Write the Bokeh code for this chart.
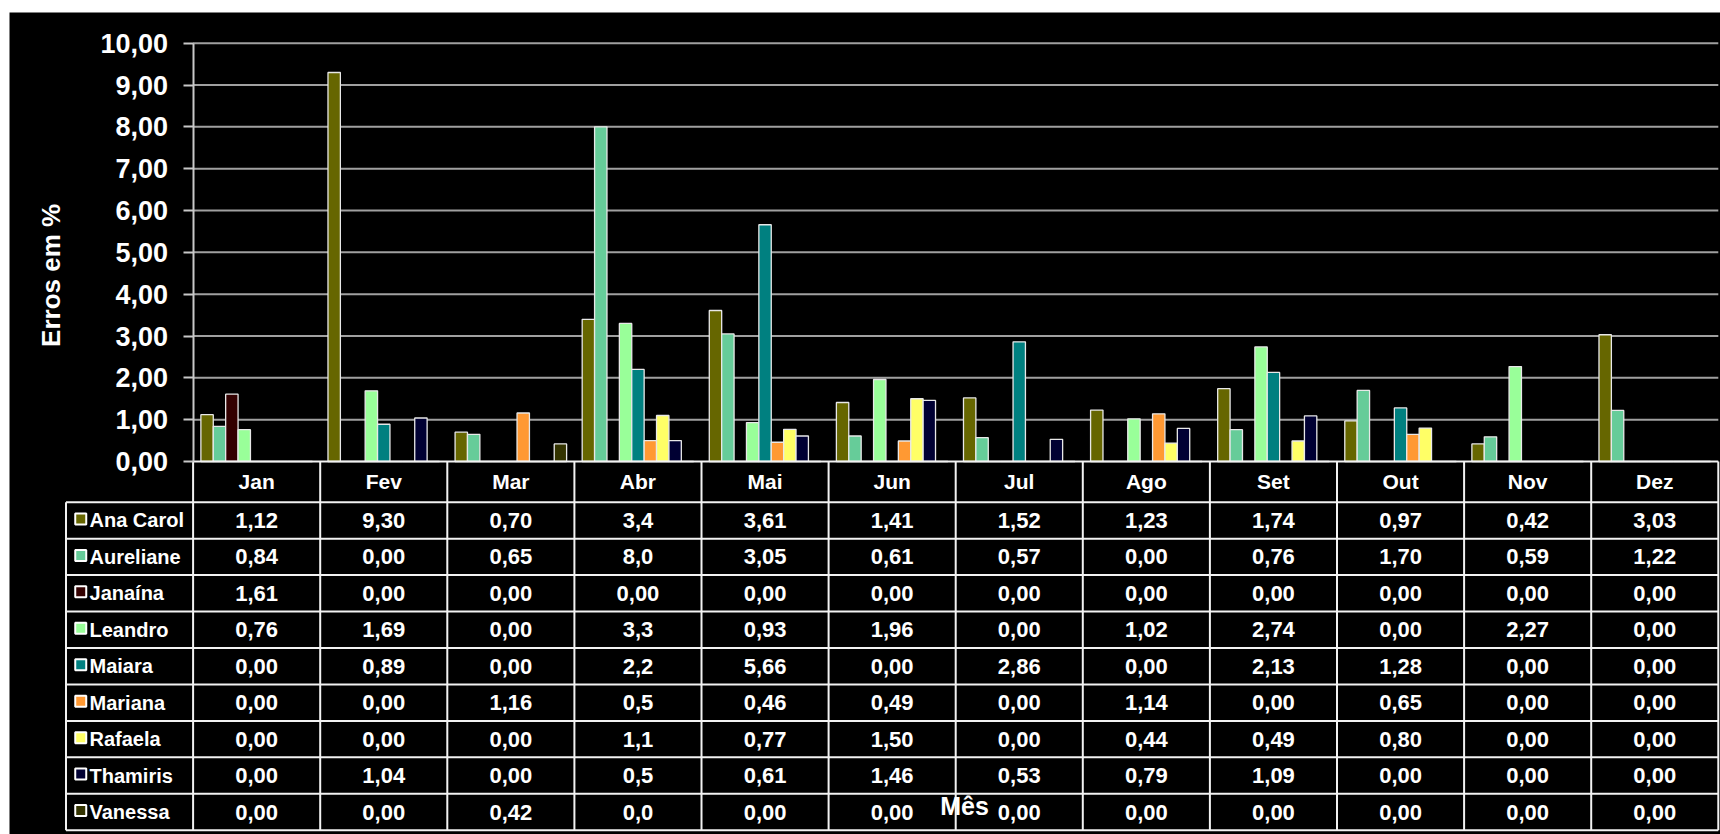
from math import pi
from bokeh.plotting import figure
from bokeh.models import (ColumnDataSource, Range1d, LinearAxis, FixedTicker,
                          Label, Grid, Spacer)
from bokeh.layouts import column, row
from bokeh.transform import dodge
from bokeh.core.properties import value
from bokeh.embed import file_html
from bokeh.resources import INLINE

# ---------------- data ----------------
months = ["Jan", "Fev", "Mar", "Abr", "Mai", "Jun", "Jul", "Ago", "Set", "Out", "Nov", "Dez"]
series_names = ["Ana Carol", "Aureliane", "Janaína", "Leandro", "Maiara",
                "Mariana", "Rafaela", "Thamiris", "Vanessa"]
ana_carol = ["1,12", "9,30", "0,70", "3,4", "3,61", "1,41", "1,52", "1,23", "1,74", "0,97", "0,42", "3,03"]
aureliane = ["0,84", "0,00", "0,65", "8,0", "3,05", "0,61", "0,57", "0,00", "0,76", "1,70", "0,59", "1,22"]
janaina   = ["1,61", "0,00", "0,00", "0,00", "0,00", "0,00", "0,00", "0,00", "0,00", "0,00", "0,00", "0,00"]
leandro   = ["0,76", "1,69", "0,00", "3,3", "0,93", "1,96", "0,00", "1,02", "2,74", "0,00", "2,27", "0,00"]
maiara    = ["0,00", "0,89", "0,00", "2,2", "5,66", "0,00", "2,86", "0,00", "2,13", "1,28", "0,00", "0,00"]
mariana   = ["0,00", "0,00", "1,16", "0,5", "0,46", "0,49", "0,00", "1,14", "0,00", "0,65", "0,00", "0,00"]
rafaela   = ["0,00", "0,00", "0,00", "1,1", "0,77", "1,50", "0,00", "0,44", "0,49", "0,80", "0,00", "0,00"]
thamiris  = ["0,00", "1,04", "0,00", "0,5", "0,61", "1,46", "0,53", "0,79", "1,09", "0,00", "0,00", "0,00"]
vanessa   = ["0,00", "0,00", "0,42", "0,0", "0,00", "0,00", "0,00", "0,00", "0,00", "0,00", "0,00", "0,00"]
series_labels = [ana_carol, aureliane, janaina, leandro, maiara, mariana, rafaela, thamiris, vanessa]
series_colors = ["#666600", "#66CC99", "#330000", "#99FF99", "#008080",
                 "#FF9933", "#FFFF66", "#000033", "#333300"]
y_ticks = [0, 1, 2, 3, 4, 5, 6, 7, 8, 9, 10]
y_title = "Erros em %"
x_title = "Mês"

# ---------------- layout constants ----------------
LEFT_PAD, TOP_PAD = 9, 12
W, H = 1711, 822
AX0 = 183.6        # canvas x of value-axis (x = 0)
UX = 127.1         # px per month column
ZERO = 449.0       # canvas y (from top) of y = 0
UY = 41.83         # px per percent
HEADER_H = 40.7
ROW_H = 36.45
BW = 0.0975        # bar width in month units
FONT = "Liberation Sans"
n_m = len(months)
n_s = len(series_names)

p = figure(width=W, height=H,
           x_range=Range1d(-AX0 / UX, (W - AX0) / UX),
           y_range=Range1d(-(H - ZERO) / UY, ZERO / UY),
           output_backend="svg", toolbar_location=None,
           x_axis_location=None, y_axis_location=None,
           min_border=0, background_fill_color="black",
           border_fill_color="black", outline_line_color=None)
p.extra_y_ranges = {"tbl": Range1d(start=H - ZERO, end=-ZERO)}
for r in p.center:
    if isinstance(r, Grid):
        r.visible = False

# gridlines
gl = [t for t in y_ticks if t > 0]
p.segment(x0=[0] * len(gl), x1=[n_m] * len(gl), y0=gl, y1=gl,
          line_color="#a0a0a0", line_width=2)

# bars
xc = [m + 0.5 for m in range(n_m)]
for i, (name, labels, col) in enumerate(zip(series_names, series_labels, series_colors)):
    vals = [float(s.replace(",", ".")) for s in labels]
    src = ColumnDataSource(dict(xc=xc, v=vals))
    p.vbar(x=dodge("xc", (i - (n_s - 1) / 2) * BW), top="v", width=BW, source=src,
           fill_color=col, line_color="#e8e8e8", line_width=1.3)

# y axis
yaxis = LinearAxis(fixed_location=0, bounds=(0, 10),
                   ticker=FixedTicker(ticks=y_ticks),
                   major_label_overrides={t: f"{t:.2f}".replace(".", ",") for t in y_ticks})
yaxis.axis_line_color = "#c8c8c8"
yaxis.axis_line_width = 2
yaxis.major_tick_line_color = "#c8c8c8"
yaxis.major_tick_line_width = 2
yaxis.major_tick_out = 10
yaxis.major_tick_in = 0
yaxis.minor_tick_out = 0
yaxis.minor_tick_in = 0
yaxis.major_label_text_font = FONT
yaxis.major_label_text_font_style = "bold"
yaxis.major_label_text_font_size = "27px"
yaxis.major_label_text_color = "white"
yaxis.major_label_standoff = 15
p.add_layout(yaxis, "left")

# table grid
tbl_bottom = HEADER_H + n_s * ROW_H
vx = list(range(n_m + 1)) + [-1]
vy0 = [0] * (n_m + 1) + [HEADER_H]
p.segment(x0=vx, x1=vx, y0=vy0, y1=[tbl_bottom] * len(vx), y_range_name="tbl",
          line_color="#f2f2f2", line_width=2)
hy = [0] + [HEADER_H + k * ROW_H for k in range(n_s + 1)]
hx0 = [0] + [-1] * (n_s + 1)
p.segment(x0=hx0, x1=[n_m] * len(hy), y0=hy, y1=hy, y_range_name="tbl",
          line_color="#f2f2f2", line_width=2)

# header
p.text(x=xc, y=[HEADER_H / 2] * n_m, text=months, y_range_name="tbl",
       text_font=value(FONT), text_font_style="bold", text_font_size="21px",
       text_color="white", text_align="center", text_baseline="middle")

# cells
cx, cy, ct = [], [], []
for i, labels in enumerate(series_labels):
    for m, s in enumerate(labels):
        cx.append(m + 0.5)
        cy.append(HEADER_H + (i + 0.5) * ROW_H)
        ct.append(s)
p.text(x=cx, y=cy, text=ct, y_range_name="tbl",
       text_font=value(FONT), text_font_style="bold", text_font_size="22px",
       text_color="white", text_align="center", text_baseline="middle")

# legend keys in table
ry = [HEADER_H + (i + 0.5) * ROW_H for i in range(n_s)]
p.scatter(x=[-0.884] * n_s, y=[y - 1.5 for y in ry], marker="square", size=11,
          fill_color=series_colors, line_color="white", line_width=2, y_range_name="tbl")
p.text(x=[-0.815] * n_s, y=ry, text=series_names, y_range_name="tbl",
       text_font=value(FONT), text_font_style="bold", text_font_size="20px",
       text_color="white", text_align="left", text_baseline="middle")

# titles
p.add_layout(Label(x=-1.117, y=4.45, text=y_title, angle=pi / 2,
                   text_font=FONT, text_font_style="bold", text_font_size="26px",
                   text_color="white", text_align="center", text_baseline="middle"))
p.add_layout(Label(x=6.07, y=344, y_range_name="tbl", text=x_title,
                   text_font=FONT, text_font_style="bold", text_font_size="25px",
                   text_color="white", text_align="center", text_baseline="middle"))

layout = column(Spacer(width=W + LEFT_PAD, height=TOP_PAD),
                row(Spacer(width=LEFT_PAD, height=H), p))
open("out.html", "w").write(file_html(layout, INLINE))
